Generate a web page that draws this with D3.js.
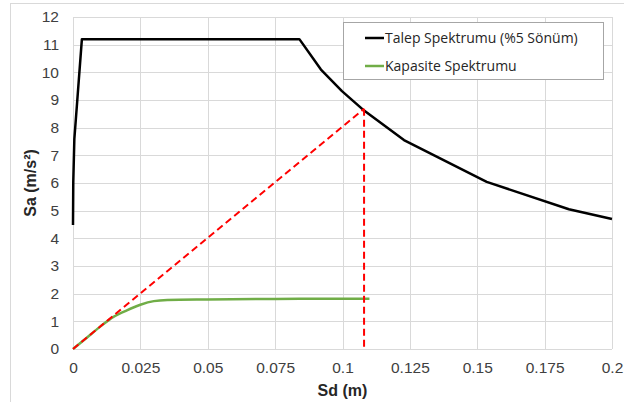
<!DOCTYPE html>
<html>
<head>
<meta charset="utf-8">
<script src="https://cdn.jsdelivr.net/npm/d3@7"></script>
<style>
  body { margin: 0; background: #fff; }
  .tick text { font-family: "Liberation Sans", Arial, sans-serif; font-size: 15.5px; fill: #404040; }
  .axtitle { font-family: "Liberation Sans", Arial, sans-serif; font-size: 16px; font-weight: bold; fill: #262626; }
  .legtext { font-family: "Open Sans", sans-serif; font-size: 14px; fill: #262626; }
</style>
</head>
<body>
<div id="chart"></div>
<script>
// Talep spektrumu (%5 sonum)
let demandSd = [0, 0.0001, 0.0005, 0.0016, 0.0033, 0.084, 0.092, 0.0998, 0.1075, 0.1228, 0.1535, 0.184, 0.2];
let demandSa = [4.48, 6.04, 7.59, 9.0, 11.2, 11.2, 10.1, 9.32, 8.66, 7.55, 6.04, 5.05, 4.7];
// Kapasite spektrumu
let capSd = [0, 0.005, 0.01, 0.015, 0.02, 0.025, 0.03, 0.035, 0.05, 0.075, 0.1, 0.11];
let capSa = [0, 0.40, 0.80, 1.16, 1.40, 1.60, 1.73, 1.77, 1.79, 1.81, 1.82, 1.82];
// performans noktasi
let perfSd = 0.108;
let perfSa = 8.68;

let xTicks = [0, 0.025, 0.05, 0.075, 0.1, 0.125, 0.15, 0.175, 0.2];
let yTicks = [0, 1, 2, 3, 4, 5, 6, 7, 8, 9, 10, 11, 12];
let seriesNames = ["Talep Spektrumu (%5 Sönüm)", "Kapasite Spektrumu"];
let seriesColors = ["#000000", "#70ad47"];

let width = 624, height = 402;
let svg = d3.select("#chart").append("svg")
    .attr("width", width)
    .attr("height", height);

// chart frame
svg.append("rect")
    .attr("x", 10.5).attr("y", 3.5)
    .attr("width", 640).attr("height", 420)
    .attr("fill", "none")
    .attr("stroke", "#d9d9d9");

let x = d3.scaleLinear().domain([0, 0.2]).range([73, 612]);
let y = d3.scaleLinear().domain([0, 12]).range([349, 17]);

// gridlines
svg.selectAll(".hgrid")
    .data(yTicks)
  .enter().append("line")
    .attr("x1", x(0)).attr("x2", x(0.2))
    .attr("y1", d => Math.round(y(d)) + 0.5)
    .attr("y2", d => Math.round(y(d)) + 0.5)
    .attr("stroke", "#d9d9d9").attr("stroke-width", 1);

svg.selectAll(".vgrid")
    .data(xTicks)
  .enter().append("line")
    .attr("x1", d => Math.round(x(d)) + 0.5)
    .attr("x2", d => Math.round(x(d)) + 0.5)
    .attr("y1", y(0)).attr("y2", y(12))
    .attr("stroke", "#d9d9d9").attr("stroke-width", 1);

// axes (labels only)
let xAxis = d3.axisBottom(x).tickValues(xTicks).tickSize(0).tickPadding(13)
    .tickFormat(d => d3.format("")(+d.toFixed(3)));
svg.append("g")
    .attr("transform", "translate(0," + y(0) + ")")
    .call(xAxis)
    .call(g => g.select(".domain").remove());

let yAxis = d3.axisLeft(y).tickValues(yTicks).tickSize(0).tickPadding(14);
svg.append("g")
    .attr("transform", "translate(" + x(0) + ",0)")
    .call(yAxis)
    .call(g => g.select(".domain").remove());

// axis titles
svg.append("text")
    .attr("class", "axtitle")
    .attr("x", (x(0) + x(0.2)) / 2)
    .attr("y", 396)
    .attr("text-anchor", "middle")
    .text("Sd (m)");

svg.append("text")
    .attr("class", "axtitle")
    .attr("transform", "translate(36," + (y(0) + y(12)) / 2 + ") rotate(-90)")
    .attr("text-anchor", "middle")
    .text("Sa (m/s²)");

// demand curve
let demand = demandSd.map((d, i) => [d, demandSa[i]]);
svg.append("path")
    .datum(demand)
    .attr("d", d3.line().x(d => x(d[0])).y(d => y(d[1])))
    .attr("fill", "none")
    .attr("stroke", seriesColors[0])
    .attr("stroke-width", 2.5)
    .attr("stroke-linejoin", "round");

// capacity curve
let cap = capSd.map((d, i) => [d, capSa[i]]);
svg.append("path")
    .datum(cap)
    .attr("d", d3.line().curve(d3.curveMonotoneX).x(d => x(d[0])).y(d => y(d[1])))
    .attr("fill", "none")
    .attr("stroke", seriesColors[1])
    .attr("stroke-width", 2.5);

// red dashed lines
svg.append("line")
    .attr("x1", x(0)).attr("y1", y(0))
    .attr("x2", x(perfSd)).attr("y2", y(perfSa))
    .attr("stroke", "#ff0000").attr("stroke-width", 2)
    .attr("stroke-dasharray", "7,4");

svg.append("line")
    .attr("x1", x(perfSd)).attr("y1", y(perfSa))
    .attr("x2", x(perfSd)).attr("y2", y(0))
    .attr("stroke", "#ff0000").attr("stroke-width", 2)
    .attr("stroke-dasharray", "7,4");

// legend
let leg = svg.append("g");
leg.append("rect")
    .attr("x", 343.5).attr("y", 22.5)
    .attr("width", 260).attr("height", 57)
    .attr("fill", "#ffffff")
    .attr("stroke", "#a6a6a6");

seriesNames.forEach(function(name, i) {
  let ly = 38 + i * 28;
  leg.append("line")
    .attr("x1", 365).attr("x2", 384)
    .attr("y1", ly).attr("y2", ly)
    .attr("stroke", seriesColors[i])
    .attr("stroke-width", 2.5);
  leg.append("text")
    .attr("class", "legtext")
    .attr("x", 385).attr("y", ly + 5)
    .text(name);
});
</script>
</body>
</html>
